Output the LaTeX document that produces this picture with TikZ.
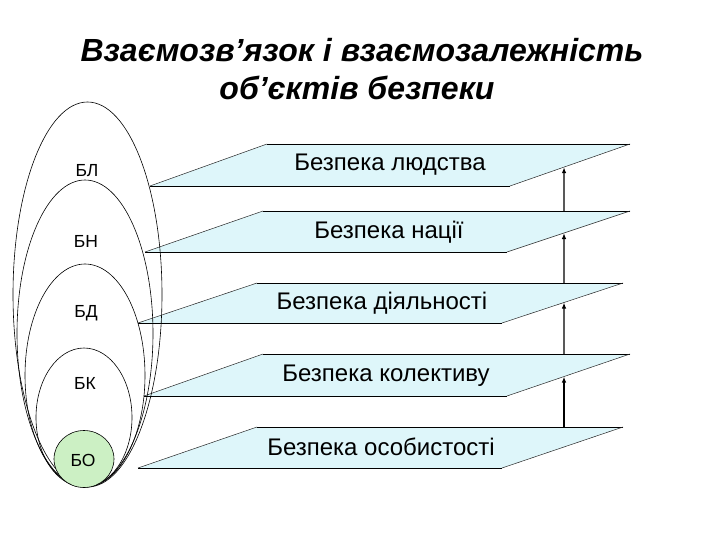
\documentclass[tikz,border=0pt]{standalone}
\usepackage{fontspec}
\setmainfont{Liberation Sans}
\usetikzlibrary{arrows.meta}
\definecolor{planefill}{RGB}{222,246,250}
\definecolor{corefill}{RGB}{204,240,196}
\begin{document}
\begin{tikzpicture}[x=1pt,y=-1pt,
  edge/.style={line width=0.9pt},
  slant/.style={line width=0.5pt,draw=black!85},
  ring/.style={line width=0.6pt},
  lbl/.style={font=\fontsize{17.5}{20}\selectfont,inner sep=0pt},
  ptext/.style={font=\fontsize{24}{28}\selectfont,inner sep=0pt},
  ttl/.style={font=\fontsize{32}{38}\selectfont\bfseries\itshape,inner sep=0pt},
  up/.style={-{Latex[length=6pt,width=4.5pt]},line width=1.3pt}]
\useasboundingbox (0,0) rectangle (720,540);

% planes
\coordinate (p1bl) at (150,186); \coordinate (p1br) at (510,186);
\coordinate (p1tr) at (630,144); \coordinate (p1tl) at (267,144);
\coordinate (p2bl) at (145,252); \coordinate (p2br) at (507,252);
\coordinate (p2tr) at (630,211); \coordinate (p2tl) at (263,211);
\coordinate (p3bl) at (138,323); \coordinate (p3br) at (502,323);
\coordinate (p3tr) at (623,283); \coordinate (p3tl) at (257,283);
\coordinate (p4bl) at (144,396); \coordinate (p4br) at (507,396);
\coordinate (p4tr) at (630,354); \coordinate (p4tl) at (263,354);
\coordinate (p5bl) at (138,468); \coordinate (p5br) at (502,468);
\coordinate (p5tr) at (623,427); \coordinate (p5tl) at (257,427);
\foreach \i in {1,...,5}{
  \fill[planefill] (p\i bl) -- (p\i br) -- (p\i tr) -- (p\i tl) -- cycle;
  \draw[edge] (p\i bl) -- (p\i br);
  \draw[edge] (p\i tl) -- (p\i tr);
  \draw[slant] (p\i bl) -- (p\i tl);
  \draw[slant] (p\i br) -- (p\i tr);
}
\node[ptext] (t1) at (390,165) {Безпека людства};
\node[ptext] (t2) at (389,232) {Безпека нації};
\node[ptext] (t3) at (382,303) {Безпека діяльності};
\node[ptext] (t4) at (386,376) {Безпека колективу};
\node[ptext] (t5) at (381,447) {Безпека особистості};

% nested ellipses
\draw[ring] (87.5,294.5) ellipse [x radius=74.5pt, y radius=192.5pt];
\draw[ring] (85,333.5) ellipse [x radius=68pt, y radius=153.5pt];
\draw[ring] (85,375.5) ellipse [x radius=60pt, y radius=111.5pt];
\draw[ring] (84,417.5) ellipse [x radius=48pt, y radius=69.5pt];
\draw[ring,fill=corefill] (84,459) ellipse [x radius=30pt, y radius=28.5pt];
\node[lbl] (bl) at (87,171) {БЛ};
\node[lbl] (bn) at (86,241) {БН};
\node[lbl] (bd) at (86,313) {БД};
\node[lbl] (bk) at (85,383) {БК};
\node[lbl] (bo) at (83,460) {БО};

% arrows
\coordinate (a2) at (564,211); \coordinate (a2t) at (564,100);
\coordinate (a3) at (564,283); \coordinate (a3t) at (564,100);
\coordinate (a4) at (564,354); \coordinate (a4t) at (564,100);
\coordinate (a5) at (564,427); \coordinate (a5t) at (564,100);
\draw[up] (a2) -- (intersection of a2--a2t and p1br--p1tr);
\draw[up] (a3) -- (intersection of a3--a3t and p2br--p2tr);
\draw[up] (a4) -- (intersection of a4--a4t and p3br--p3tr);
\draw[up] (a5) -- (intersection of a5--a5t and p4br--p4tr);

% title
\node[ttl] (title1) at (362,50) {Взаємозв’язок і взаємозалежність};
\node[ttl] (title2) at (357,88) {об’єктів безпеки};
\end{tikzpicture}
\end{document}
